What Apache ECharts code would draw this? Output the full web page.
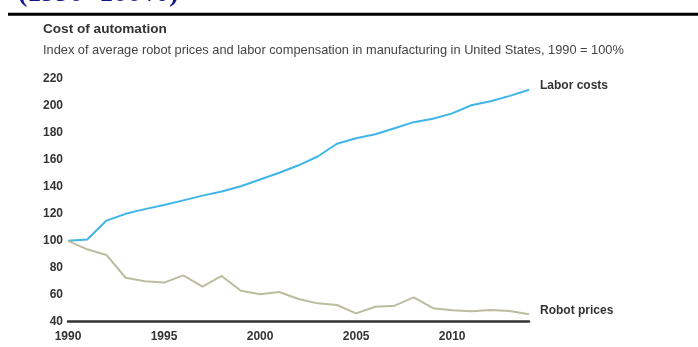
<!DOCTYPE html>
<html>
<head>
<meta charset="utf-8">
<script src="https://cdn.jsdelivr.net/npm/echarts@6/dist/echarts.min.js"></script>
<style>
  html, body { margin: 0; padding: 0; background: #fff; }
  #chart { width: 698px; height: 347px; }
</style>
</head>
<body>
<div id="chart"></div>
<script>
// Years 1990–2014, index 1990 = 100
var years = [];
for (var y = 1990; y <= 2014; y++) years.push(String(y));

var laborCosts = [100, 101, 115, 120, 123.5, 126.5, 130, 133.5, 136.5, 140.5,
                  145.5, 150.5, 156, 162.5, 172, 176, 179, 183.5, 188, 190.5,
                  194.5, 200.5, 203.5, 207.5, 212];

var robotPrices = [100, 93.7, 89.5, 72.6, 70, 69, 74.4, 66, 73.9, 63,
                   60.3, 62, 56.8, 53.6, 52.4, 46.2, 51.1, 51.9, 58.1, 50,
                   48.5, 47.7, 48.7, 48, 45.5];

var seriesNames = ['Labor costs', 'Robot prices'];

var FONT = '"Liberation Sans", Arial, sans-serif';

var chart = echarts.init(document.getElementById('chart'), null, { renderer: 'canvas' });

chart.setOption({
  animation: false,
  backgroundColor: '#ffffff',
  grid: { left: 68, right: 169, top: 79, bottom: 25.3, containLabel: false },
  graphic: [
    {
      type: 'text', left: 18, top: -20,
      style: { text: '(1990=100%)', font: 'bold 28px "Liberation Serif", "Times New Roman", serif', fill: '#16168a' }
    },
    {
      type: 'rect', shape: { x: 8, y: 12.8, width: 700, height: 3 },
      style: { fill: '#000000' }
    },
    {
      type: 'text', left: 43, top: 22.5,
      style: { text: 'Cost of automation', font: 'bold 13.6px ' + FONT, fill: '#333333' }
    },
    {
      type: 'text', left: 43, top: 44,
      style: { text: 'Index of average robot prices and labor compensation in manufacturing in United States, 1990 = 100%', font: '12.8px ' + FONT, fill: '#444444' }
    }
  ],
  xAxis: {
    type: 'category',
    data: years,
    boundaryGap: false,
    axisLine: { lineStyle: { color: '#333333', width: 2.5 } },
    axisTick: { show: false },
    splitLine: { show: false },
    axisLabel: { interval: 4, margin: 9, color: '#333333', fontFamily: FONT, fontWeight: 'bold', fontSize: 12 }
  },
  yAxis: {
    type: 'value',
    min: 40, max: 220, interval: 20,
    axisLine: { show: false },
    axisTick: { show: false },
    splitLine: { show: false },
    axisLabel: { margin: 5, color: '#333333', fontFamily: FONT, fontWeight: 'bold', fontSize: 12 }
  },
  series: [
    {
      name: seriesNames[0], type: 'line', data: laborCosts,
      symbol: 'none', lineStyle: { color: '#3fb5e8', width: 2 },
      endLabel: { show: true, formatter: seriesNames[0], distance: 11, offset: [0, -4],
                  color: '#333333', fontFamily: FONT, fontWeight: 'bold', fontSize: 12 }
    },
    {
      name: seriesNames[1], type: 'line', data: robotPrices,
      symbol: 'none', lineStyle: { color: '#bcbc9f', width: 2 },
      endLabel: { show: true, formatter: seriesNames[1], distance: 11, offset: [0, -4],
                  color: '#333333', fontFamily: FONT, fontWeight: 'bold', fontSize: 12 }
    }
  ]
});
</script>
</body>
</html>
